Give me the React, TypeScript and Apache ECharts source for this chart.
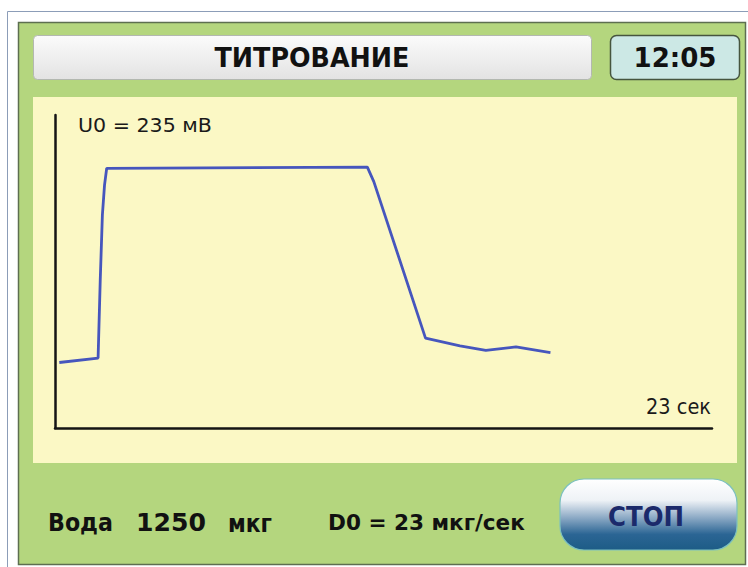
import React, { useEffect, useRef } from "react";
import * as echarts from "echarts";

// ---- data ----
const timeSec = [0.2, 2.0, 2.1, 2.2, 2.3, 2.4, 14.5, 14.8, 17.2, 18.8, 20.0, 21.4, 23.0];
const voltageMv = [59, 63, 133, 192, 219, 234, 235, 222, 81, 74, 70, 73, 68];
const titleText = "ТИТРОВАНИЕ";
const clockText = "12:05";
const u0Label = "U0 = 235 мВ";
const timeLabel = "23 сек";
const waterWords = ["Вода", "1250", "мкг"];
const rateLabel = "D0 = 23 мкг/сек";
const buttonLabel = "СТОП";

const FONT = "DejaVu Sans";

let ctx: CanvasRenderingContext2D | null = null;
function fitScale(text: string, weight: string, size: number, target: number): number {
  if (!ctx) ctx = document.createElement("canvas").getContext("2d");
  if (!ctx) return 1;
  ctx.font = `${weight} ${size}px "${FONT}"`;
  const w = ctx.measureText(text).width;
  return w > 0 ? target / w : 1;
}

function txt(text: string, x: number, y: number, size: number, weight: string, width: number, color: string, align: string = "left") {
  return {
    type: "text",
    x,
    y,
    scaleX: fitScale(text, weight, size, width),
    z: 10,
    style: {
      text,
      fill: color,
      font: `${weight} ${size}px "${FONT}"`,
      align,
      verticalAlign: "middle",
    },
  };
}

export default function App() {
  const ref = useRef<HTMLDivElement>(null);
  useEffect(() => {
    if (!ref.current) return;
    const chart = echarts.init(ref.current, undefined, { renderer: "svg" });
    const data = timeSec.map((t, i) => [t, voltageMv[i]]);
    chart.setOption({
      animation: false,
      backgroundColor: "#ffffff",
      grid: { left: 55, right: 36, top: 115, bottom: 139 },
      xAxis: {
        type: "value",
        min: 0,
        max: 30.5,
        axisLine: { show: true, onZero: false, lineStyle: { color: "#151515", width: 2.5 } },
        axisTick: { show: false },
        axisLabel: { show: false },
        splitLine: { show: false },
      },
      yAxis: {
        type: "value",
        min: 0,
        max: 282,
        axisLine: { show: true, onZero: false, lineStyle: { color: "#151515", width: 2.5 } },
        axisTick: { show: false },
        axisLabel: { show: false },
        splitLine: { show: false },
      },
      series: [
        {
          type: "line",
          data,
          showSymbol: false,
          symbol: "none",
          lineStyle: { color: "#4656bd", width: 2.8 },
          z: 5,
        },
      ],
      graphic: [
        // outer window frame
        { type: "rect", shape: { x: 7.5, y: 11.5, width: 760, height: 600 }, style: { fill: "#ffffff", stroke: "#8c9db8", lineWidth: 1 }, z: -30, silent: true },
        // green panel
        { type: "rect", shape: { x: 18.5, y: 22.5, width: 727, height: 542 }, style: { fill: "#b4d67e", stroke: "#5d6f50", lineWidth: 1.5 }, z: -20, silent: true },
        // title bar
        {
          type: "rect",
          shape: { x: 33.5, y: 35.5, width: 558, height: 44, r: 4 },
          style: {
            fill: new echarts.graphic.LinearGradient(0, 0, 0, 1, [
              { offset: 0, color: "#fbfbfb" },
              { offset: 1, color: "#e3e3e3" },
            ]),
            stroke: "#b3b8b0",
            lineWidth: 1,
          },
          z: -10,
          silent: true,
        },
        // clock box
        { type: "rect", shape: { x: 610.5, y: 35.5, width: 129, height: 44, r: 6 }, style: { fill: "#cce8e5", stroke: "#46553f", lineWidth: 1.5 }, z: -10, silent: true },
        // chart area
        { type: "rect", shape: { x: 33, y: 97, width: 704, height: 366 }, style: { fill: "#fbf8c5" }, z: -10, silent: true },
        // stop button
        {
          type: "rect",
          shape: { x: 560, y: 479, width: 177, height: 71, r: 24 },
          style: {
            fill: new echarts.graphic.LinearGradient(0, 0, 0, 1, [
              { offset: 0, color: "#ffffff" },
              { offset: 0.3, color: "#eef2f6" },
              { offset: 0.55, color: "#8aa8c4" },
              { offset: 0.78, color: "#2b6594" },
              { offset: 1, color: "#1d5c86" },
            ]),
            stroke: "#7cc0bf",
            lineWidth: 1.2,
          },
          z: -5,
          silent: true,
        },
        txt(titleText, 312, 58, 26, "bold", 195, "#111111", "center"),
        txt(clockText, 675, 58, 26, "bold", 83, "#111111", "center"),
        txt(u0Label, 78, 125, 20, "normal", 134, "#1a1a1a", "left"),
        txt(timeLabel, 711, 407, 22, "normal", 65, "#1a1a1a", "right"),
        txt(waterWords[0], 48, 523, 25, "bold", 65, "#111111", "left"),
        txt(waterWords[1], 136, 523, 25, "bold", 70, "#111111", "left"),
        txt(waterWords[2], 228, 523, 25, "bold", 44, "#111111", "left"),
        txt(rateLabel, 328, 523, 21, "bold", 197, "#111111", "left"),
        txt(buttonLabel, 646, 517, 27, "bold", 76, "#1b2a6b", "center"),
      ],
    });
    return () => chart.dispose();
  }, []);
  return <div ref={ref} style={{ position: "fixed", left: 0, top: 0, width: 748, height: 567 }} />;
}
